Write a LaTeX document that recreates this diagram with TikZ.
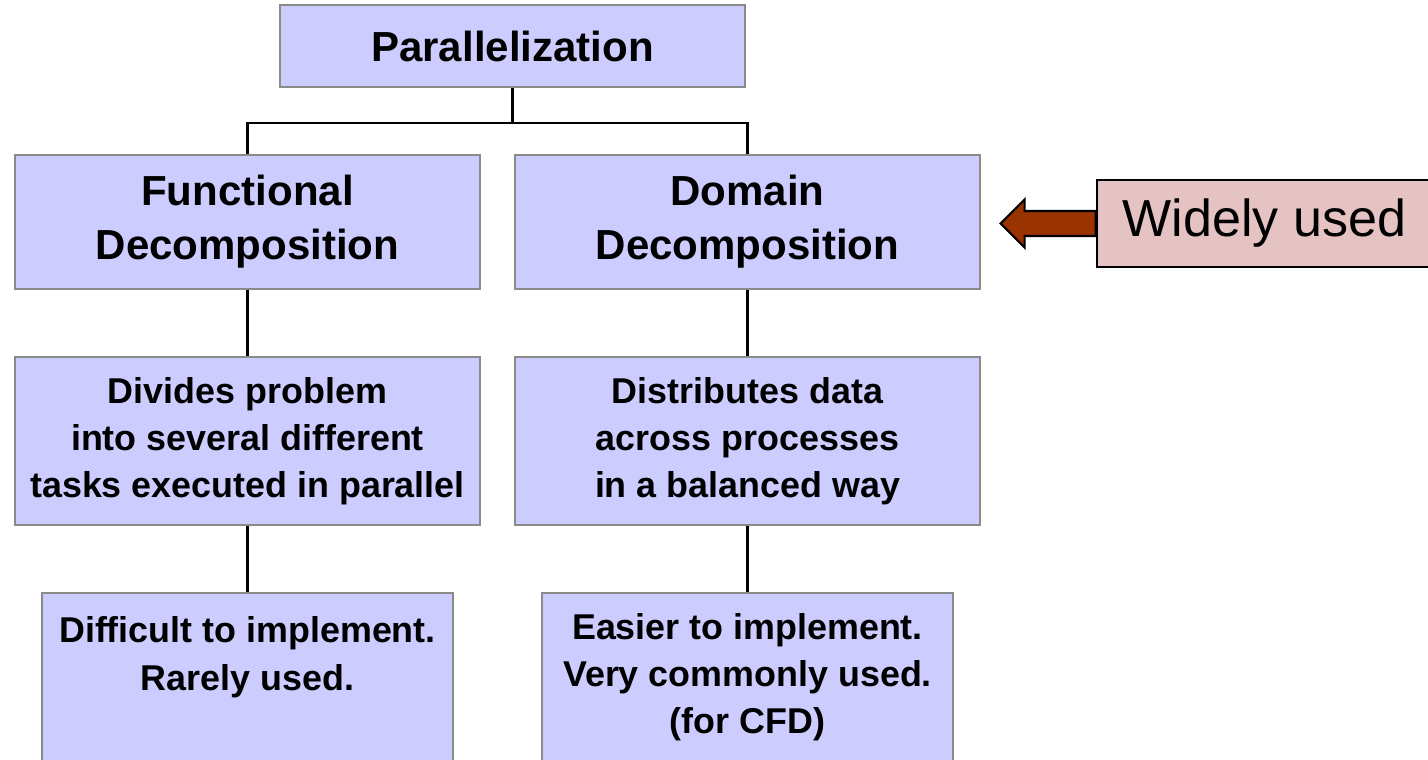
\documentclass[tikz,border=0pt]{standalone}
\usepackage{fontspec}
\setmainfont{Liberation Sans}
\definecolor{treeBoxBg}{HTML}{CCCCFF}
\definecolor{treeBoxLine}{HTML}{8A8A8A}
\definecolor{noteBg}{HTML}{E6C3C3}
\definecolor{noteArrow}{HTML}{993300}

\begin{document}
\begin{tikzpicture}[
    x=0.01cm,y=-0.01cm,
    every node/.style={align=center,inner sep=0pt},
    topbox/.style={draw=treeBoxLine,fill=treeBoxBg,line width=0.7pt,minimum width=4.65cm,font=\fontsize{11.95}{15.4}\selectfont\bfseries},
    lowbox/.style={draw=treeBoxLine,fill=treeBoxBg,line width=0.7pt,minimum width=4.65cm,minimum height=1.68cm,font=\fontsize{10.2}{13.4}\selectfont\bfseries},
    leafbox/.style={lowbox,minimum width=4.11cm},
    note/.style={draw=black,fill=noteBg,line width=0.7pt,minimum width=3.35cm,minimum height=0.87cm,font=\fontsize{14.8}{18}\selectfont},
    link/.style={draw=black,line width=0.6pt},
    pointer/.style={draw=black,fill=noteArrow,line width=0.6pt,line join=miter}
]
\clip (0,0) rectangle (1428,759);
\node[topbox,minimum height=0.82cm] (par) at (512.5,46) {Parallelization};
\node[topbox,minimum height=1.34cm] (func) at (247.5,222) {Functional\\Decomposition};
\node[topbox,minimum height=1.34cm] (dom) at (747.5,222) {Domain\\Decomposition};
\node[lowbox] (funcdesc) at (247.5,441) {Divides problem\\into several different\\tasks executed in parallel};
\node[lowbox] (domdesc) at (747.5,441) {Distributes data\\across processes\\in a balanced way};
\node[leafbox] (funcnote) at (247.5,677) {Difficult to implement.\\Rarely used.\\~};
\node[leafbox] (domnote) at (747.5,677) {Easier to implement.\\Very commonly used.\\(for CFD)};
\node[note] (wide) at (1264.5,223.5) {Widely used};

\draw[link] (par.south) -- ++(0,35) -| (func.north);
\draw[link] (par.south) -- ++(0,35) -| (dom.north);
\draw[link] (func) -- (funcdesc);
\draw[link] (dom) -- (domdesc);
\draw[link] (funcdesc) -- (funcnote);
\draw[link] (domdesc) -- (domnote);
\draw[pointer] (wide.west) ++(0,-12.5) -- ++(-71,0) -- ++(0,-11.5) -- ++(-24,24)
    -- ++(24,24) -- ++(0,-11.5) -- ++(71,0) -- cycle;
\end{tikzpicture}
\end{document}
